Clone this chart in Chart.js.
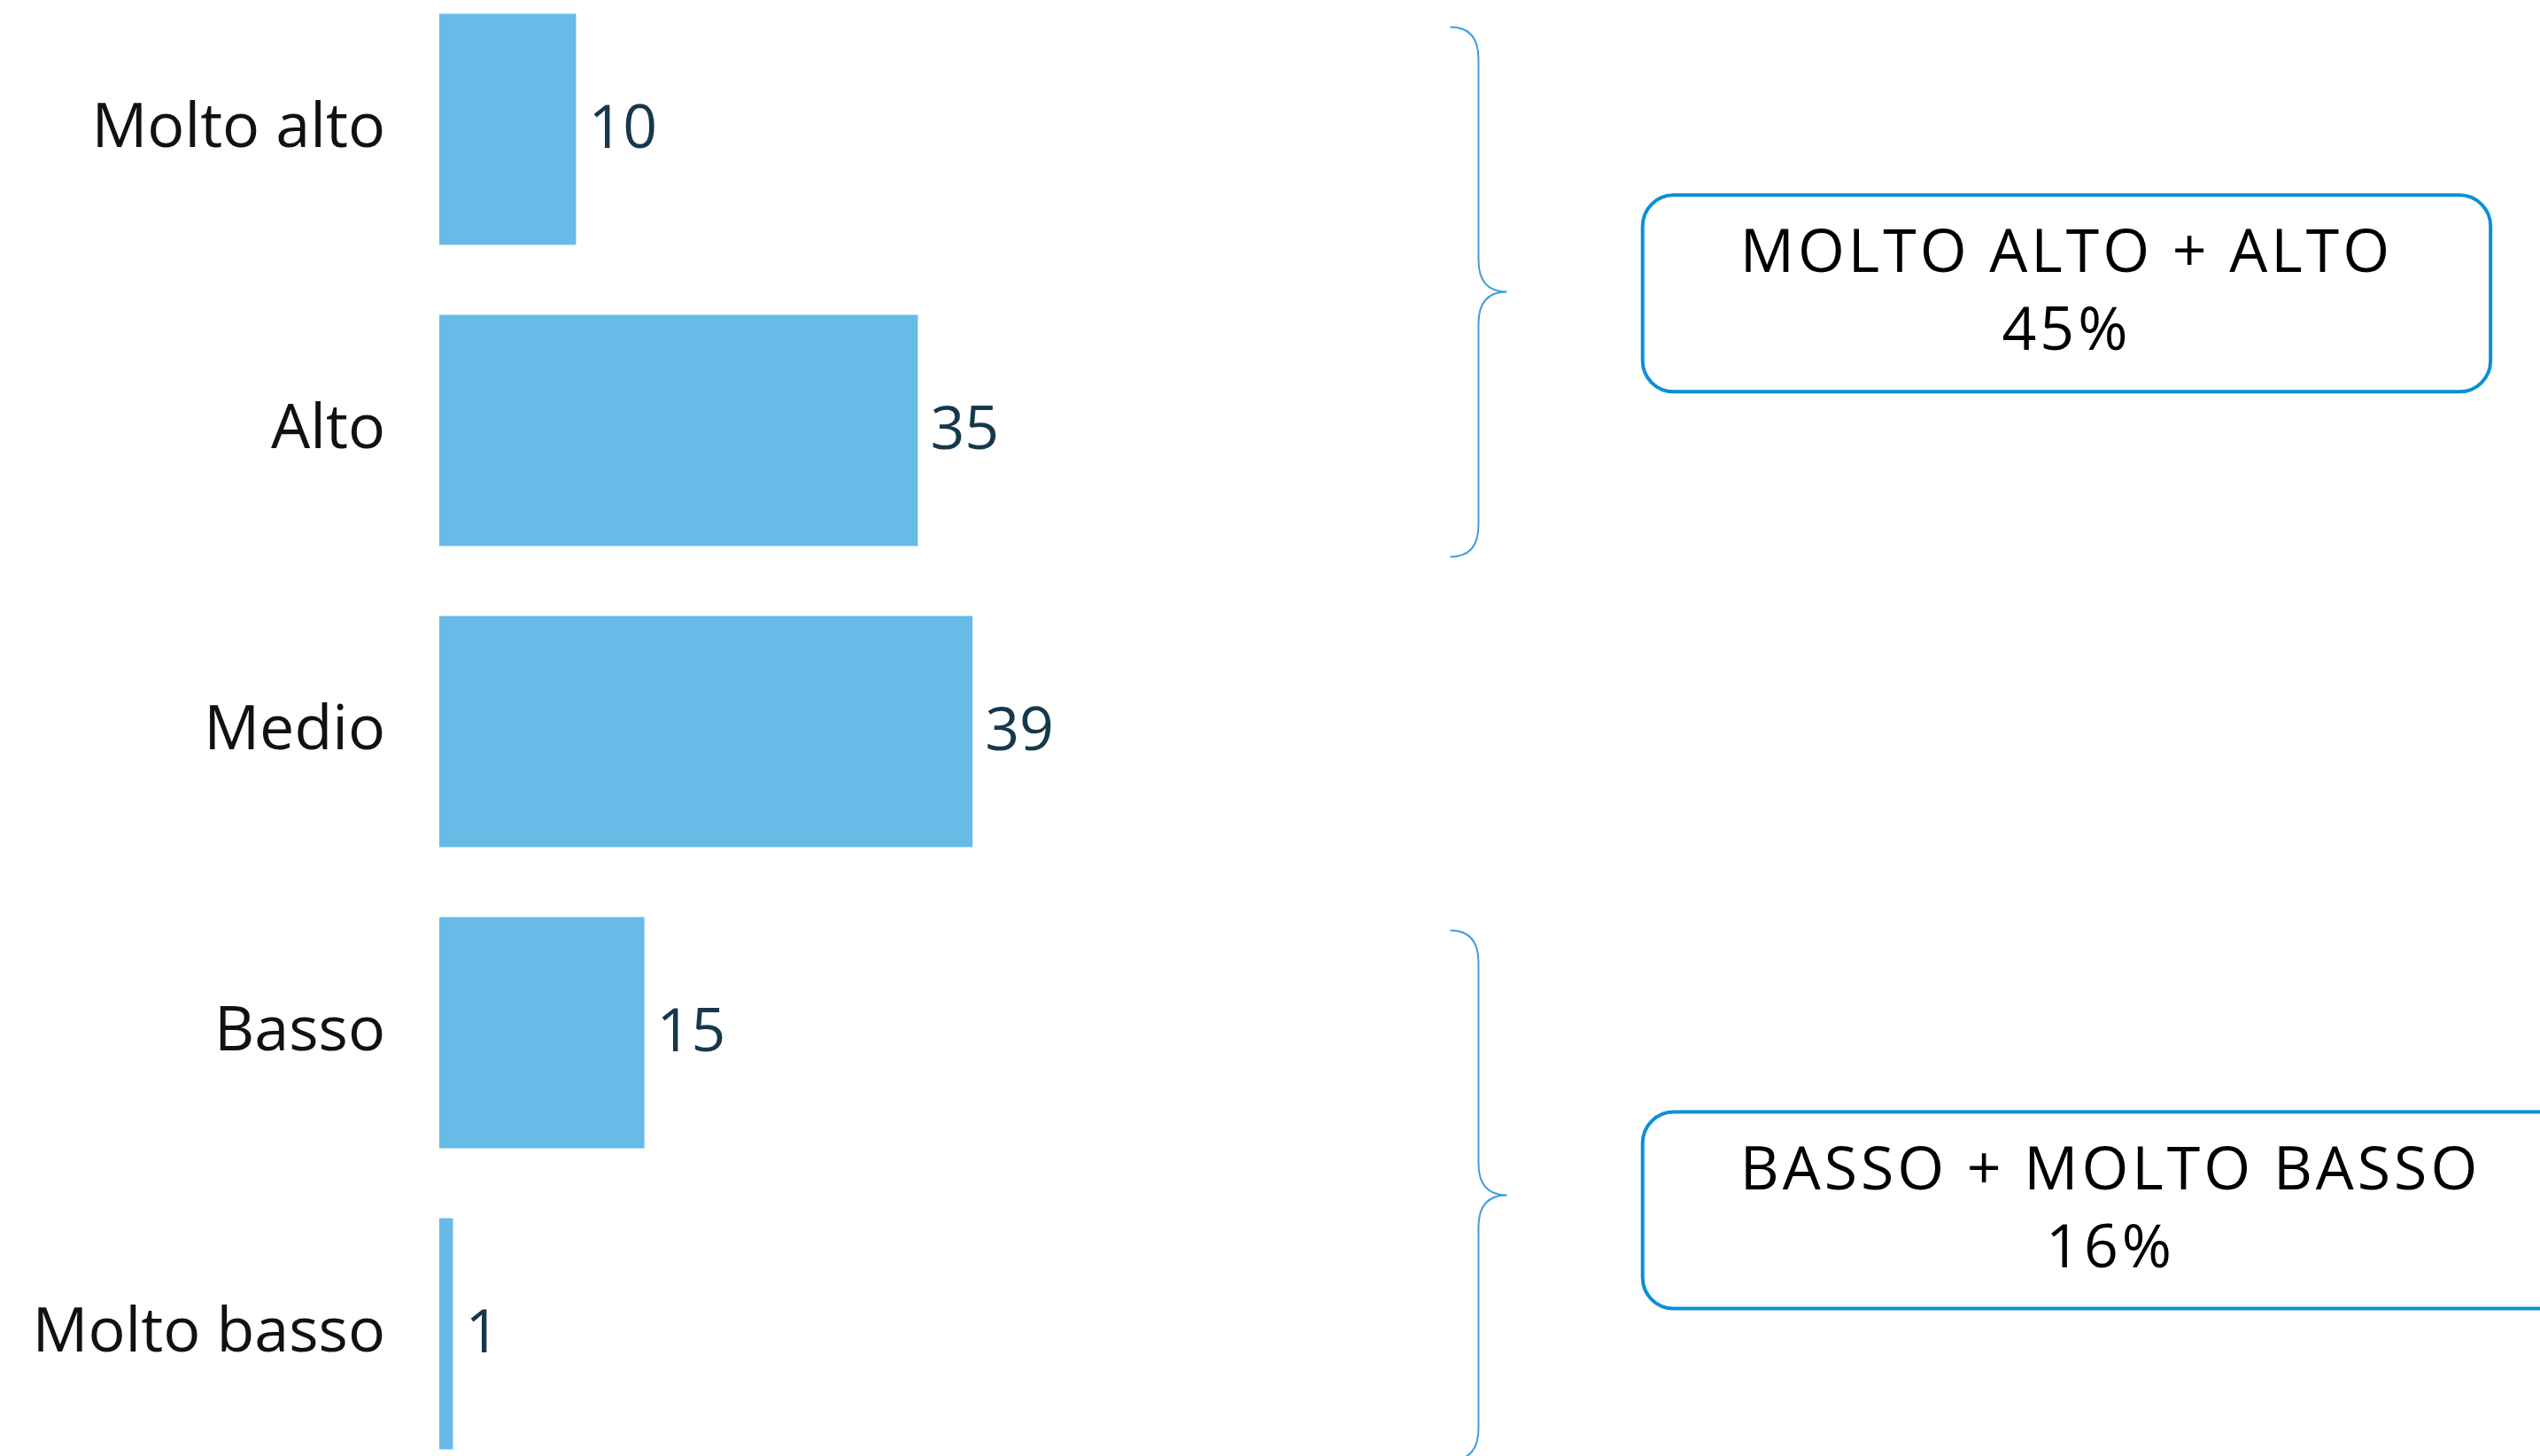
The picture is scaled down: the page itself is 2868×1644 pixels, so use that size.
<!DOCTYPE html>
<html>
<head>
<meta charset="utf-8">
<script src="https://cdn.jsdelivr.net/npm/chart.js@4.4.0/dist/chart.umd.min.js"></script>
<style>
  html, body { margin: 0; padding: 0; background: #fff; overflow: hidden; }
  #wrap { position: absolute; left: 0; top: -24px; width: 2868px; height: 1700px; }
</style>
</head>
<body>
<div id="wrap"><canvas id="livelloChart"></canvas></div>
<script>
// Categorie e valori (%)
const categories = ['Molto alto', 'Alto', 'Medio', 'Basso', 'Molto basso'];
const values = [10, 35, 39, 15, 1];

// Raggruppamenti a destra (graffe + riquadri)
const groupTitles = ['MOLTO ALTO + ALTO', 'BASSO + MOLTO BASSO'];
const groupFrom = [0, 3];
const groupTo = [1, 4];
const groupBoxCenter = [0.545, 3.59];

const FONT = '"Open Sans", "Noto Sans", sans-serif';

// Etichette dei valori accanto alle barre
const valueLabels = {
  id: 'valueLabels',
  afterDatasetsDraw(chart) {
    const c = chart.ctx;
    const meta = chart.getDatasetMeta(0);
    c.save();
    c.font = '400 68px ' + FONT;
    c.fillStyle = '#17384c';
    c.textAlign = 'left';
    c.textBaseline = 'middle';
    meta.data.forEach((bar, i) => {
      c.fillText(String(values[i]), bar.x + 14, bar.y + 2);
    });
    c.restore();
  }
};

// Graffe e riquadri riassuntivi
const groupBoxes = {
  id: 'groupBoxes',
  afterDraw(chart) {
    const c = chart.ctx;
    const xs = chart.scales.x;
    const ys = chart.scales.y;
    const pitch = ys.getPixelForValue(1) - ys.getPixelForValue(0);
    c.save();
    groupTitles.forEach((title, g) => {
      const top = ys.getPixelForValue(groupFrom[g]) - 0.34 * pitch;
      const bot = ys.getPixelForValue(groupTo[g]) + 0.42 * pitch;
      const mid = (top + bot) / 2;
      const bx = xs.getPixelForValue(76);
      const w = 32, r = 36;

      // graffa
      c.strokeStyle = '#3f9fdc';
      c.lineWidth = 2;
      c.beginPath();
      c.moveTo(bx - w, top);
      c.quadraticCurveTo(bx, top, bx, top + r);
      c.lineTo(bx, mid - r);
      c.quadraticCurveTo(bx, mid, bx + w, mid);
      c.quadraticCurveTo(bx, mid, bx, mid + r);
      c.lineTo(bx, bot - r);
      c.quadraticCurveTo(bx, bot, bx - w, bot);
      c.stroke();

      // riquadro
      let total = 0;
      for (let i = groupFrom[g]; i <= groupTo[g]; i++) total += values[i];
      c.font = '400 68px ' + FONT;
      c.letterSpacing = '4px';
      const tw = c.measureText(title).width;
      const left = xs.getPixelForValue(88);
      const bw = tw + 220;
      const bh = 0.653 * pitch;
      const cy = ys.getPixelForValue(groupBoxCenter[g]);
      c.strokeStyle = '#0b8fd6';
      c.lineWidth = 4;
      c.beginPath();
      c.roundRect(left, cy - bh / 2, bw, bh, 35);
      c.stroke();

      c.fillStyle = '#000';
      c.textAlign = 'center';
      c.textBaseline = 'alphabetic';
      const cx = left + bw / 2;
      c.fillText(title, cx, cy - 24);
      c.fillText(total + '%', cx, cy + 64);
      c.letterSpacing = '0px';
    });
    c.restore();
  }
};

const ctx = document.getElementById('livelloChart').getContext('2d');
new Chart(ctx, {
  type: 'bar',
  data: {
    labels: categories,
    datasets: [{
      data: values,
      backgroundColor: '#67bbe6',
      borderWidth: 0,
      categoryPercentage: 1,
      barPercentage: 0.768
    }]
  },
  options: {
    indexAxis: 'y',
    responsive: true,
    maintainAspectRatio: false,
    animation: false,
    layout: { padding: { left: 0, right: 56, top: 0, bottom: 0 } },
    plugins: { legend: { display: false }, tooltip: { enabled: false } },
    scales: {
      x: { display: false, min: 0, max: 150 },
      y: {
        grid: { display: false },
        border: { display: false },
        afterFit(scale) {
          scale.width = 496;
          scale.paddingTop = 0;
          scale.paddingBottom = 0;
        },
        ticks: {
          padding: 53,
          color: '#111',
          font: { family: FONT, size: 70, weight: '400' }
        }
      }
    }
  },
  plugins: [valueLabels, groupBoxes]
});
</script>
</body>
</html>
